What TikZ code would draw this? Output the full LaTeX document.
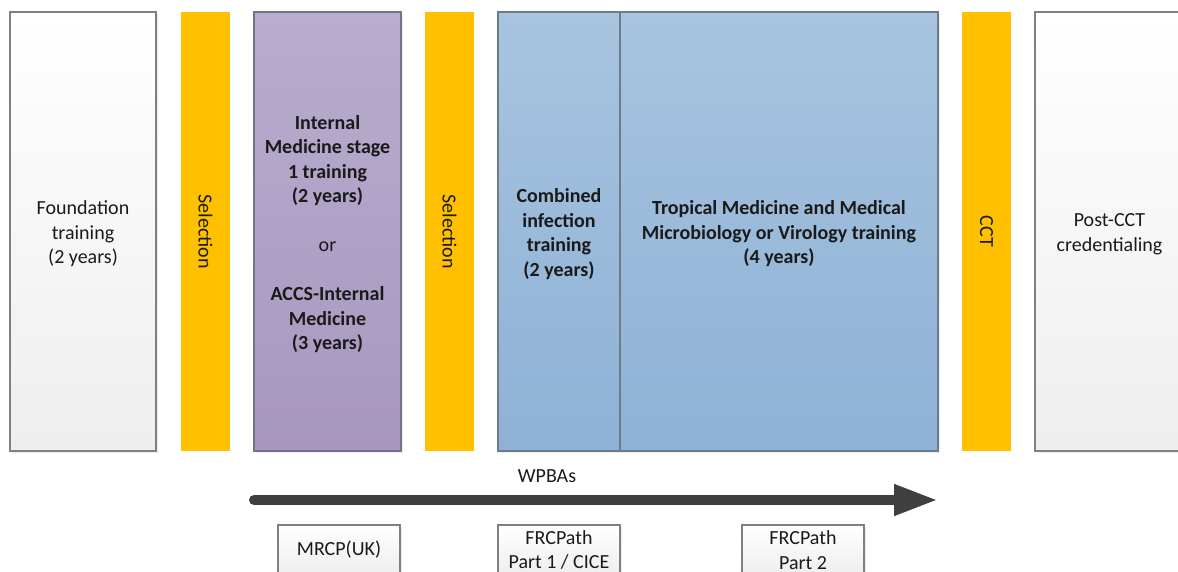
\documentclass[tikz,border=0pt]{standalone}
\usepackage{fontspec}
\setmainfont{Carlito}
\usetikzlibrary{arrows.meta,shadows}
\definecolor{selyellow}{HTML}{FFC000}
\definecolor{purpletop}{HTML}{B8ADCE}
\definecolor{purplebot}{HTML}{A797BF}
\definecolor{purpleedge}{HTML}{77708A}
\definecolor{bluetop}{HTML}{A8C4DF}
\definecolor{bluebot}{HTML}{8EB1D6}
\definecolor{blueedge}{HTML}{6C7C8C}
\definecolor{greyedge}{HTML}{808080}
\definecolor{greybot}{HTML}{EEEEEE}
\definecolor{arrowgrey}{HTML}{404040}
\definecolor{txt}{HTML}{1A1A1A}
\tikzset{
  every node/.style={font=\fontsize{20}{24.5}\selectfont, text=txt, inner sep=0pt, align=center},
  tall/.style={minimum height=439pt},
  whitebox/.style={tall, draw=greyedge, line width=1.3pt, top color=white, bottom color=greybot,
     drop shadow={shadow xshift=2pt, shadow yshift=-2pt, opacity=0.15}},
  purplebox/.style={tall, draw=purpleedge, line width=1.3pt, top color=purpletop, bottom color=purplebot,
     drop shadow={shadow xshift=2pt, shadow yshift=-2pt, opacity=0.15}},
  bluebox/.style={tall, draw=blueedge, line width=1.3pt, top color=bluetop, bottom color=bluebot,
     drop shadow={shadow xshift=2pt, shadow yshift=-2pt, opacity=0.15}},
  selbar/.style={tall, minimum width=49pt, fill=selyellow},
  exambox/.style={minimum width=122pt, minimum height=50pt, draw=greyedge, line width=1.2pt,
     top color=white, bottom color=greybot,
     drop shadow={shadow xshift=2pt, shadow yshift=-2pt, opacity=0.15}},
  bigarrow/.style={draw=arrowgrey, line width=10pt, line cap=round,
     -{Triangle[length=44pt,width=29pt]}},
  boxtext/.style={yshift=-2.5pt},
}
\begin{document}
\begin{tikzpicture}[x=1pt,y=-1pt]
\useasboundingbox (0,0) rectangle (1178,571);
\fill[white] (0,0) rectangle (1178,571);

\node[whitebox, minimum width=146pt] (found) at (83,231.5) {};
\node[boxtext] (foundt) at (found.center) {Foundation\\training\\(2 years)};
\node[selbar] (sel1) at (205.5,231.5) {};
\node[rotate=-90] (sel1t) at (sel1.center) {Selection};
\node[purplebox, minimum width=147pt] (im) at (327.5,231.5) {};
\node[boxtext] (imt) at (im.center)
  {\textbf{Internal}\\\textbf{Medicine stage}\\\textbf{1 training}\\\textbf{(2 years)}\\[24.5pt]or\\[24.5pt]\textbf{ACCS-Internal}\\\textbf{Medicine}\\\textbf{(3 years)}};
\node[selbar] (sel2) at (449.5,231.5) {};
\node[rotate=-90] (sel2t) at (sel2.center) {Selection};
\node[bluebox, minimum width=122pt] (comb) at (559,231.5) {};
\node[boxtext] (combt) at (comb.center)
  {\textbf{Combined}\\\textbf{infection}\\\textbf{training}\\\textbf{(2 years)}};
\node[bluebox, minimum width=318pt] (trop) at (779,231.5) {};
\node[boxtext] (tropt) at (trop.center)
  {\textbf{Tropical Medicine and Medical}\\\textbf{Microbiology or Virology training}\\\textbf{(4 years)}};
\node[selbar] (cct) at (986.5,231.5) {};
\node[rotate=-90] (cctt) at (cct.center) {CCT};
\node[whitebox, minimum width=146pt] (post) at (1108,231.5) {};
\node[boxtext] (postt) at ([xshift=1.5pt]post.center) {Post-CCT\\credentialing};

\coordinate (arrs) at (254,500);
\coordinate (arre) at (938,500);
\draw[bigarrow] (arrs) -- (arre);
\node (wpba) at (547,476) {WPBAs};

\node[exambox] (mrcp) at (339,550) {MRCP(UK)};
\node[exambox] (frc1) at (559,550) {FRCPath\\Part 1 / CICE};
\node[exambox] (frc2) at (803,550) {FRCPath\\Part 2};
\end{tikzpicture}
\end{document}
